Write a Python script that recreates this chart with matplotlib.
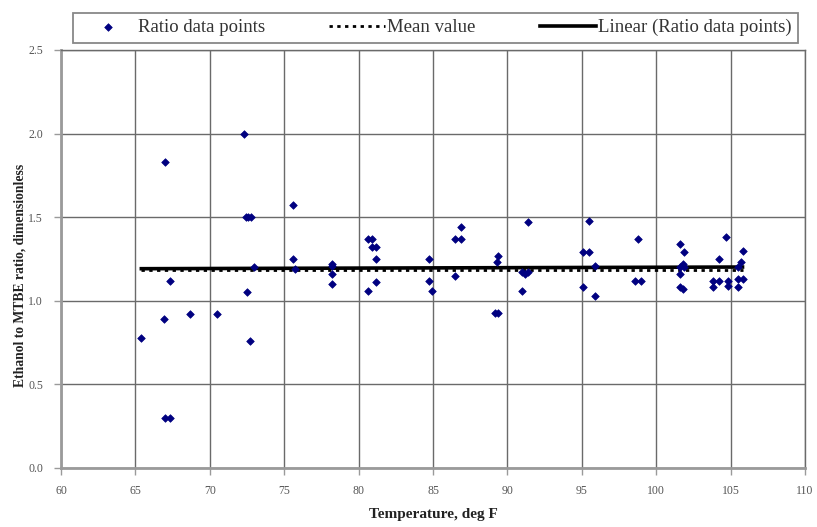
import numpy as np
import matplotlib
matplotlib.use("Agg")
import matplotlib.pyplot as plt

plt.rcParams['font.family'] = ['Liberation Serif', 'DejaVu Serif']

# temperature (deg F) and ethanol/MTBE ratio
temp = [65.4, 67.0, 66.9, 67.3, 67.0, 67.3, 68.7, 70.5, 72.3, 72.4, 72.6, 72.8,
        72.5, 72.7, 73.0, 75.6, 75.6, 75.7, 78.2, 78.2, 78.2, 78.2, 80.6, 80.9,
        80.9, 81.2, 81.2, 81.2, 80.6, 84.7, 84.7, 84.9, 86.9, 86.5, 86.9, 86.5,
        89.4, 89.3, 89.2, 89.4, 91.4, 91.0, 91.4, 91.2, 91.0, 95.5, 95.1, 95.5,
        95.9, 95.1, 95.9, 98.8, 98.6, 99.0, 101.6, 101.9, 101.8, 101.6, 101.9,
        101.6, 101.6, 101.8, 104.2, 104.7, 103.8, 104.2, 103.8, 104.8, 104.8,
        105.8, 105.7, 105.5, 105.5, 105.8, 105.5]
ratio = [0.78, 1.83, 0.89, 1.12, 0.30, 0.30, 0.92, 0.92, 2.00, 1.50, 1.50, 1.50,
         1.05, 0.76, 1.20, 1.57, 1.25, 1.19, 1.22, 1.21, 1.16, 1.10, 1.37, 1.37,
         1.32, 1.32, 1.25, 1.11, 1.06, 1.25, 1.12, 1.06, 1.44, 1.37, 1.37, 1.15,
         1.27, 1.23, 0.93, 0.93, 1.47, 1.17, 1.17, 1.16, 1.06, 1.48, 1.29, 1.29,
         1.21, 1.08, 1.03, 1.37, 1.12, 1.12, 1.34, 1.29, 1.22, 1.20, 1.20,
         1.16, 1.08, 1.07, 1.25, 1.38, 1.12, 1.12, 1.08, 1.12, 1.09,
         1.30, 1.23, 1.20, 1.13, 1.13, 1.08]

# mean and linear trend as shown on the chart
mean_value = 1.186
trend_ends = [1.192, 1.202]

x = np.array(temp)
y = np.array(ratio)
xl = [x.min(), x.max()]

fig = plt.figure(figsize=(8.17, 5.27), dpi=100)
ax = fig.add_axes([61/817, 1 - 468/527, 744/817, 418/527])

ax.plot(xl, [mean_value, mean_value], color='black', ls=(0, (1.2, 1.6)), lw=2.0,
        label='Mean value', zorder=2)
ax.plot(xl, trend_ends, color='black', lw=2.6,
        label='Linear (Ratio data points)', zorder=3)
ax.scatter(x, y, marker='D', s=15, color='#000080', edgecolors='#000080',
           linewidths=0.5, label='Ratio data points', zorder=4)

ax.set_xlim(60, 110)
ax.set_ylim(0, 2.5)
ax.set_xticks(np.arange(60, 111, 5))
yt = np.arange(0, 2.51, 0.5)
ax.set_yticks(yt)
ax.set_yticklabels([f"{v:.1f}" for v in yt])
ax.grid(True, color='#6a6a6a', lw=1.0)
ax.set_axisbelow(True)
for s in ax.spines.values():
    s.set_color('#6a6a6a')
    s.set_linewidth(1.0)
for s in ['left', 'bottom']:
    ax.spines[s].set_color('#9a9a9a')
    ax.spines[s].set_linewidth(2.0)
ax.tick_params(labelsize=8.5, colors='#9a9a9a', labelcolor='#555555',
               length=5, direction='out', width=1.0)
ax.tick_params(axis='y', pad=8)
ax.tick_params(axis='x', pad=7)

ax.set_xlabel('Temperature, deg F', fontsize=11, fontweight='bold',
              color='#222222')
ax.xaxis.set_label_coords(0.5, -0.095)
ax.set_ylabel('Ethanol to MTBE ratio, dimensionless', fontsize=9.8,
              fontweight='bold', color='#222222')
ax.yaxis.set_label_coords(-0.047, 0.46)

h, l = ax.get_legend_handles_labels()
order = [2, 0, 1]
leg = fig.legend([h[i] for i in order], [l[i] for i in order], ncol=3,
                 loc='lower left', mode='expand',
                 bbox_to_anchor=(73/817, 1 - 43/527, 725/817, 35/527),
                 fontsize=13.5, frameon=True, fancybox=False,
                 edgecolor='#6a6a6a', handlelength=3.0, handletextpad=0.1,
                 borderpad=0.35, borderaxespad=0, labelcolor='#333333')
leg.get_frame().set_linewidth(1.3)

fig.savefig('out.png', dpi=100)
